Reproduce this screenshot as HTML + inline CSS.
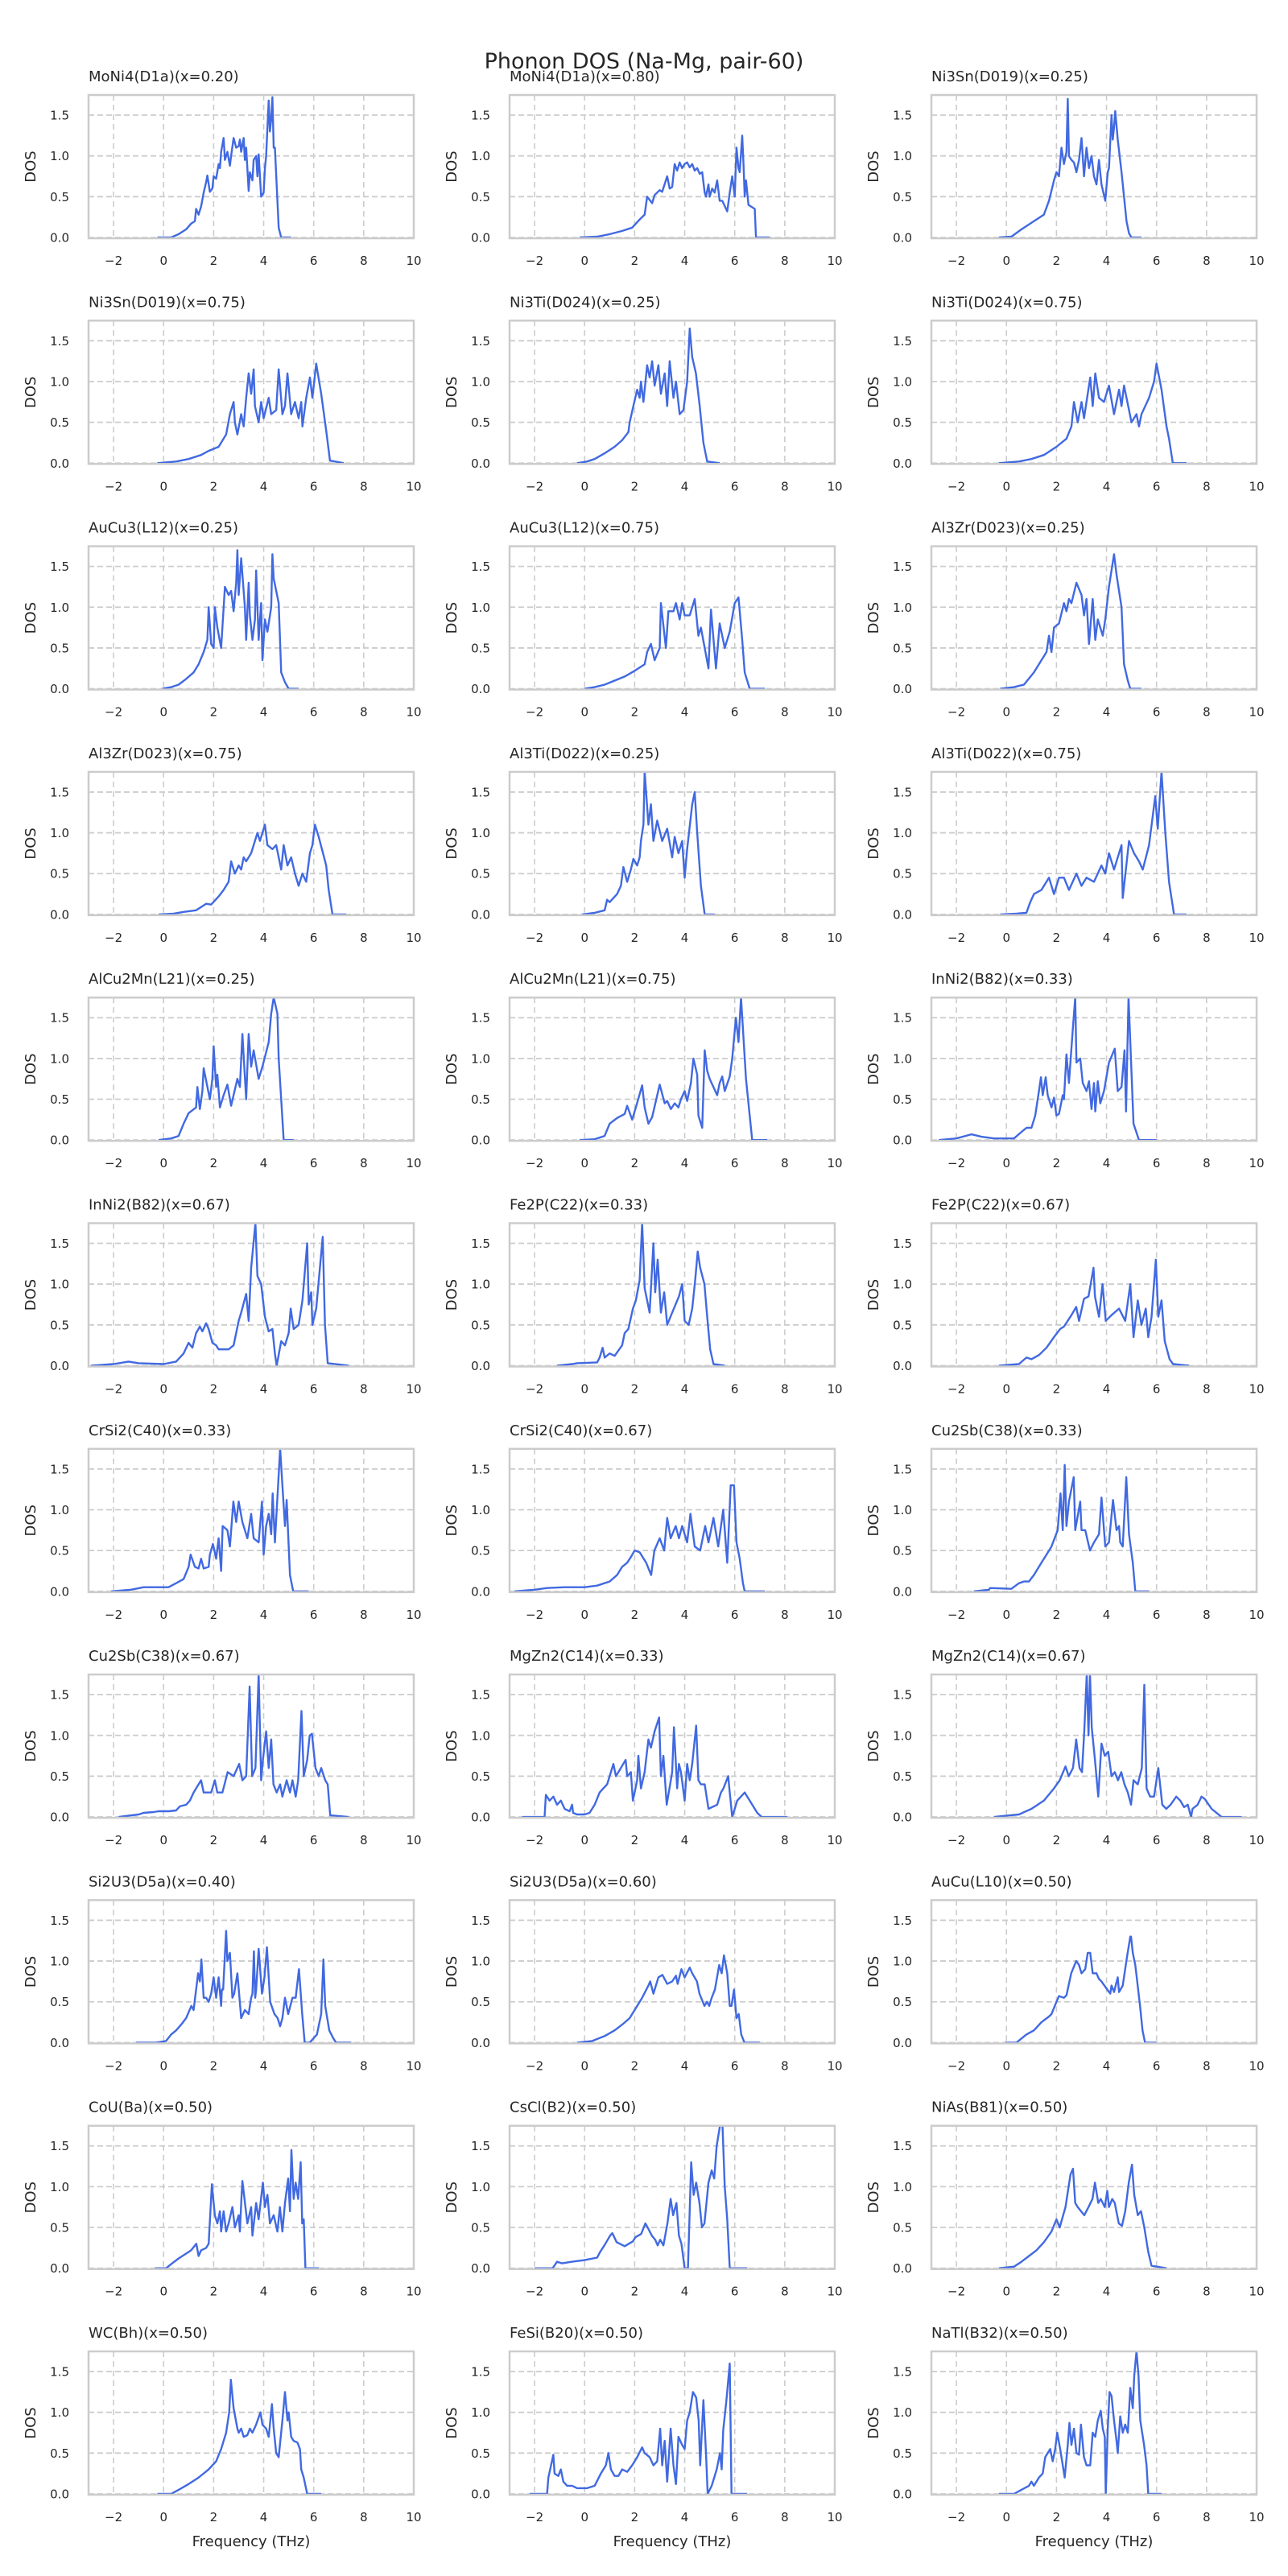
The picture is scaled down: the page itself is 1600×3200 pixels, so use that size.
<!DOCTYPE html>
<html><head><meta charset="utf-8"><title>Phonon DOS (Na-Mg, pair-60)</title>
<style>
html,body{margin:0;padding:0;background:#fff;}
svg{display:block;font-family:"DejaVu Sans","Liberation Sans",sans-serif;}
</style></head>
<body>
<svg id="fig" xmlns="http://www.w3.org/2000/svg" width="1600" height="3200" viewBox="0 0 1600 3200">
<rect width="1600" height="3200" fill="#fff"/>
<text x="800" y="85" text-anchor="middle" font-size="27" fill="#262626">Phonon DOS (Na-Mg, pair-60)</text>
</svg>
<script>
const titles = ["MoNi4(D1a)(x=0.20)","MoNi4(D1a)(x=0.80)","Ni3Sn(D019)(x=0.25)","Ni3Sn(D019)(x=0.75)","Ni3Ti(D024)(x=0.25)","Ni3Ti(D024)(x=0.75)","AuCu3(L12)(x=0.25)","AuCu3(L12)(x=0.75)","Al3Zr(D023)(x=0.25)","Al3Zr(D023)(x=0.75)","Al3Ti(D022)(x=0.25)","Al3Ti(D022)(x=0.75)","AlCu2Mn(L21)(x=0.25)","AlCu2Mn(L21)(x=0.75)","InNi2(B82)(x=0.33)","InNi2(B82)(x=0.67)","Fe2P(C22)(x=0.33)","Fe2P(C22)(x=0.67)","CrSi2(C40)(x=0.33)","CrSi2(C40)(x=0.67)","Cu2Sb(C38)(x=0.33)","Cu2Sb(C38)(x=0.67)","MgZn2(C14)(x=0.33)","MgZn2(C14)(x=0.67)","Si2U3(D5a)(x=0.40)","Si2U3(D5a)(x=0.60)","AuCu(L10)(x=0.50)","CoU(Ba)(x=0.50)","CsCl(B2)(x=0.50)","NiAs(B81)(x=0.50)","WC(Bh)(x=0.50)","FeSi(B20)(x=0.50)","NaTl(B32)(x=0.50)"];
const xTicks = [-2,0,2,4,6,8,10];
const yTicks = [0,0.5,1.0,1.5];
const yTickLabels = ["0.0","0.5","1.0","1.5"];
const xLim = [-3,10];
const yLim = [-0.01,1.747];

const freqs = [
[-0.25,0.3,0.6,0.9,1.1,1.25,1.3,1.4,1.5,1.6,1.7,1.75,1.85,1.95,2.0,2.1,2.2,2.25,2.3,2.4,2.45,2.55,2.65,2.7,2.8,2.9,3.0,3.05,3.1,3.2,3.25,3.3,3.4,3.45,3.55,3.6,3.7,3.75,3.8,3.9,4.0,4.05,4.1,4.2,4.25,4.3,4.35,4.4,4.45,4.6,4.7,5.1],
[-0.2,0.5,1.0,1.5,1.9,2.2,2.4,2.5,2.7,2.8,3.0,3.1,3.3,3.4,3.5,3.6,3.7,3.8,3.9,4.0,4.1,4.2,4.3,4.4,4.5,4.6,4.7,4.8,4.85,4.95,5.0,5.1,5.2,5.3,5.4,5.5,5.7,5.8,5.9,6.0,6.07,6.15,6.2,6.3,6.35,6.4,6.45,6.55,6.65,6.8,6.85,7.4],
[-0.3,0.2,0.6,1.0,1.5,1.7,1.9,2.0,2.1,2.2,2.3,2.4,2.45,2.5,2.6,2.7,2.8,2.9,3.0,3.1,3.2,3.3,3.4,3.5,3.6,3.7,3.8,3.95,4.05,4.1,4.2,4.25,4.3,4.35,4.45,4.6,4.8,4.9,5.0,5.4],
[-0.25,0.5,1.0,1.5,1.8,2.2,2.5,2.65,2.8,2.85,2.95,3.1,3.2,3.3,3.4,3.5,3.6,3.65,3.8,3.9,4.0,4.2,4.3,4.5,4.6,4.75,4.85,4.95,5.1,5.25,5.4,5.5,5.55,5.7,5.85,5.95,6.1,6.3,6.5,6.65,7.2],
[-0.3,0.1,0.4,0.8,1.2,1.5,1.75,1.8,1.95,2.1,2.2,2.25,2.35,2.5,2.6,2.7,2.8,2.95,3.05,3.2,3.3,3.4,3.55,3.65,3.8,3.95,4.1,4.2,4.3,4.45,4.6,4.75,4.9,5.4],
[-0.3,0.5,1.0,1.5,2.0,2.4,2.6,2.7,2.85,3.0,3.1,3.35,3.45,3.55,3.7,3.9,4.1,4.3,4.5,4.6,4.7,5.0,5.2,5.3,5.4,5.7,5.9,6.0,6.2,6.4,6.5,6.65,7.2],
[-0.05,0.3,0.6,0.9,1.2,1.4,1.6,1.75,1.8,1.9,2.0,2.05,2.15,2.3,2.45,2.6,2.7,2.8,2.9,2.95,3.0,3.1,3.25,3.3,3.4,3.45,3.55,3.65,3.7,3.8,3.9,3.95,4.05,4.15,4.3,4.35,4.4,4.6,4.7,4.85,5.0,5.4],
[0.0,0.4,0.8,1.2,1.6,2.0,2.4,2.5,2.65,2.8,3.0,3.05,3.25,3.35,3.55,3.65,3.8,3.9,4.0,4.2,4.4,4.55,4.65,4.8,4.95,5.05,5.25,5.4,5.6,5.8,6.0,6.15,6.3,6.4,6.6,7.2],
[-0.25,0.3,0.7,1.1,1.4,1.6,1.7,1.8,1.9,2.1,2.3,2.4,2.5,2.6,2.8,3.0,3.1,3.2,3.3,3.45,3.55,3.65,3.85,3.95,4.1,4.3,4.4,4.6,4.7,4.85,4.95,5.4],
[-0.2,0.4,0.8,1.3,1.7,1.9,2.2,2.4,2.6,2.7,2.85,3.0,3.1,3.2,3.3,3.5,3.75,3.85,4.05,4.15,4.35,4.5,4.7,4.8,4.95,5.1,5.25,5.4,5.55,5.7,5.85,5.95,6.05,6.2,6.5,6.6,6.75,7.3],
[-0.1,0.4,0.8,0.9,1.0,1.3,1.45,1.55,1.7,1.85,1.95,2.1,2.2,2.25,2.3,2.35,2.4,2.55,2.65,2.75,2.9,3.1,3.3,3.5,3.6,3.75,3.9,4.0,4.1,4.3,4.4,4.5,4.65,4.8,5.2],
[-0.25,0.4,0.8,0.95,1.1,1.4,1.7,1.9,2.1,2.3,2.5,2.8,3.0,3.2,3.5,3.8,3.95,4.1,4.3,4.6,4.65,4.9,5.1,5.3,5.45,5.7,5.95,6.05,6.2,6.35,6.5,6.7,7.2],
[-0.2,0.3,0.6,0.8,1.0,1.3,1.35,1.45,1.55,1.6,1.85,1.95,2.0,2.1,2.15,2.25,2.4,2.55,2.7,2.95,3.05,3.15,3.3,3.4,3.5,3.6,3.8,3.95,4.2,4.3,4.4,4.55,4.6,4.7,4.8,5.2],
[-0.2,0.4,0.8,1.0,1.3,1.6,1.7,1.9,2.05,2.3,2.4,2.55,2.7,3.0,3.2,3.3,3.45,3.6,3.75,3.85,4.0,4.1,4.25,4.35,4.5,4.55,4.7,4.8,4.9,5.0,5.3,5.4,5.5,5.6,5.8,5.9,6.05,6.15,6.25,6.45,6.6,6.7,7.3],
[-2.7,-2.0,-1.4,-1.0,-0.5,0.3,0.6,0.8,1.0,1.15,1.3,1.38,1.45,1.57,1.65,1.8,1.9,2.0,2.1,2.25,2.3,2.4,2.5,2.65,2.75,2.8,2.95,3.05,3.2,3.3,3.4,3.5,3.55,3.65,3.75,3.9,4.1,4.33,4.45,4.6,4.72,4.78,4.88,4.95,5.08,5.3,6.0],
[-2.9,-2.0,-1.4,-1.0,0.0,0.5,0.8,1.0,1.15,1.3,1.45,1.55,1.7,1.8,1.95,2.1,2.2,2.6,2.8,3.0,3.1,3.3,3.4,3.5,3.67,3.75,3.9,4.05,4.2,4.35,4.45,4.52,4.7,4.85,5.0,5.08,5.2,5.4,5.55,5.74,5.8,5.9,5.95,6.1,6.36,6.45,6.56,7.4],
[-1.1,-0.5,-0.3,0.5,0.6,0.72,0.8,1.0,1.2,1.5,1.6,1.75,1.93,2.05,2.2,2.3,2.4,2.6,2.75,2.82,2.92,3.05,3.18,3.3,3.5,3.77,3.9,4.0,4.16,4.3,4.42,4.52,4.62,4.79,4.9,5.02,5.15,5.6],
[-0.3,0.5,0.8,1.0,1.3,1.6,1.9,2.15,2.3,2.6,2.79,2.9,3.1,3.28,3.48,3.54,3.7,3.84,3.97,4.2,4.5,4.75,4.95,5.08,5.25,5.4,5.57,5.67,5.8,5.97,6.07,6.2,6.33,6.52,6.66,7.3],
[-2.1,-1.3,-0.8,-0.3,0.2,0.5,0.8,1.0,1.08,1.25,1.4,1.5,1.6,1.8,1.85,1.97,2.1,2.2,2.3,2.36,2.55,2.65,2.79,2.9,3.0,3.15,3.25,3.35,3.5,3.6,3.8,3.93,4.0,4.1,4.2,4.3,4.36,4.45,4.66,4.75,4.85,4.92,5.05,5.18,5.8],
[-2.8,-2.0,-1.5,-0.8,0.0,0.5,1.0,1.3,1.5,1.7,1.85,2.0,2.2,2.46,2.66,2.79,3.0,3.18,3.3,3.44,3.64,3.77,3.9,4.1,4.23,4.4,4.62,4.82,4.95,5.15,5.34,5.54,5.7,5.84,5.97,6.07,6.2,6.33,6.4,7.2],
[-1.3,-0.7,-0.65,0.2,0.5,0.7,0.9,1.1,1.4,1.6,1.8,2.05,2.16,2.25,2.33,2.4,2.5,2.69,2.75,2.95,3.0,3.15,3.34,3.5,3.7,3.8,3.95,4.1,4.26,4.4,4.5,4.55,4.65,4.79,4.9,5.05,5.15,5.7],
[-1.8,-1.0,-0.8,-0.4,-0.2,0.2,0.5,0.65,0.9,1.05,1.2,1.3,1.5,1.6,1.9,2.05,2.15,2.35,2.56,2.8,3.02,3.15,3.3,3.44,3.54,3.67,3.8,3.9,3.97,4.1,4.2,4.3,4.39,4.52,4.66,4.75,4.92,5.05,5.15,5.28,5.38,5.51,5.6,5.74,5.84,5.93,6.07,6.2,6.3,6.46,6.56,6.66,7.4],
[-2.5,-1.6,-1.55,-1.4,-1.25,-1.1,-0.95,-0.8,-0.6,-0.5,-0.46,-0.3,0.0,0.2,0.4,0.6,0.75,0.9,1.15,1.25,1.35,1.64,1.7,1.85,1.93,2.1,2.15,2.25,2.4,2.55,2.65,2.8,2.98,3.05,3.15,3.28,3.5,3.57,3.7,3.77,3.85,4.0,4.1,4.2,4.3,4.46,4.55,4.65,4.8,4.95,5.3,5.45,5.55,5.74,5.8,5.9,6.1,6.4,6.6,6.9,7.08,8.1],
[-0.5,0.5,1.0,1.5,1.9,2.13,2.36,2.49,2.66,2.79,2.92,3.02,3.11,3.21,3.28,3.34,3.41,3.54,3.67,3.8,3.93,4.07,4.2,4.33,4.46,4.59,4.72,4.85,4.98,5.08,5.25,5.41,5.51,5.6,5.74,5.9,6.07,6.23,6.39,6.56,6.79,6.95,7.1,7.25,7.38,7.44,7.64,7.8,7.93,8.2,8.6,9.4],
[-1.1,-0.3,0.1,0.3,0.5,0.7,0.9,1.11,1.2,1.38,1.45,1.51,1.6,1.7,1.8,1.9,2.0,2.1,2.2,2.3,2.33,2.38,2.5,2.55,2.65,2.75,2.82,2.95,3.1,3.25,3.4,3.5,3.55,3.61,3.66,3.7,3.8,3.93,4.03,4.13,4.26,4.43,4.56,4.66,4.75,4.85,4.98,5.15,5.28,5.41,5.54,5.64,5.84,6.13,6.3,6.39,6.46,6.62,6.79,6.89,7.5],
[-0.3,0.3,0.8,1.2,1.5,1.8,2.0,2.3,2.55,2.62,2.75,2.95,3.11,3.3,3.5,3.65,3.72,3.87,4.0,4.2,4.3,4.49,4.59,4.79,4.89,4.98,5.08,5.21,5.38,5.48,5.57,5.7,5.8,5.87,5.97,6.07,6.16,6.26,6.39,7.0],
[-0.05,0.4,0.6,0.8,1.1,1.4,1.7,1.8,2.0,2.1,2.3,2.4,2.59,2.79,2.9,3.0,3.15,3.25,3.35,3.45,3.6,3.7,3.8,4.03,4.15,4.2,4.3,4.45,4.5,4.65,4.82,4.95,4.98,5.05,5.15,5.21,5.34,5.44,5.54,6.0],
[-0.35,0.1,0.3,0.6,0.9,1.1,1.31,1.4,1.5,1.7,1.8,1.93,2.0,2.05,2.15,2.25,2.3,2.4,2.5,2.6,2.75,2.85,3.0,3.05,3.11,3.15,3.35,3.5,3.55,3.7,3.8,3.97,4.05,4.15,4.25,4.4,4.55,4.65,4.75,4.85,4.98,5.05,5.11,5.2,5.28,5.38,5.48,5.54,5.6,5.67,6.2],
[-2.0,-1.28,-1.1,-0.9,-0.5,0.0,0.5,0.62,0.79,1.02,1.11,1.28,1.6,1.93,2.03,2.26,2.43,2.52,2.69,2.82,2.92,3.02,3.15,3.31,3.44,3.54,3.67,3.77,3.87,4.0,4.13,4.26,4.36,4.46,4.59,4.69,4.79,4.95,5.08,5.18,5.28,5.41,5.51,5.6,5.7,5.8,6.5],
[-0.3,0.3,0.6,0.9,1.2,1.5,1.8,2.0,2.13,2.36,2.46,2.56,2.66,2.75,2.85,2.98,3.11,3.28,3.44,3.54,3.67,3.77,3.93,4.03,4.1,4.23,4.33,4.49,4.62,4.75,4.89,5.02,5.11,5.25,5.38,5.51,5.67,5.8,6.4],
[-0.25,0.3,0.6,1.0,1.4,1.8,2.1,2.3,2.5,2.62,2.69,2.8,2.95,3.0,3.1,3.2,3.35,3.45,3.55,3.7,3.87,3.95,4.1,4.2,4.33,4.4,4.5,4.6,4.75,4.85,4.95,5.0,5.1,5.2,5.35,5.45,5.5,5.6,5.74,6.3],
[-2.2,-1.5,-1.45,-1.25,-1.2,-1.05,-0.95,-0.85,-0.7,-0.5,-0.3,0.1,0.4,0.65,0.85,0.95,1.05,1.2,1.35,1.5,1.7,1.9,2.1,2.3,2.4,2.6,2.75,2.9,3.02,3.1,3.2,3.3,3.44,3.55,3.65,3.75,3.9,4.0,4.1,4.2,4.33,4.46,4.56,4.62,4.75,4.85,4.92,5.08,5.28,5.41,5.48,5.54,5.67,5.8,5.87,6.5],
[-0.3,0.3,0.6,0.9,1.0,1.1,1.3,1.45,1.55,1.65,1.75,1.85,1.95,2.03,2.15,2.33,2.45,2.52,2.6,2.7,2.8,2.9,2.98,3.1,3.2,3.35,3.45,3.55,3.65,3.77,3.85,3.93,3.97,4.05,4.12,4.2,4.3,4.4,4.45,4.55,4.65,4.75,4.85,4.95,5.05,5.11,5.2,5.28,5.35,5.5,5.6,5.67,6.2]
];

const dosValues = [
[0,0,0.04,0.1,0.17,0.2,0.35,0.28,0.38,0.55,0.68,0.76,0.56,0.6,0.75,0.72,0.9,0.85,1.05,1.22,0.95,1.05,0.88,1.0,1.22,1.1,1.12,1.2,1.05,1.22,0.95,1.1,0.57,0.8,0.7,0.95,1.0,0.75,1.02,0.5,0.55,0.85,1.0,1.68,1.3,1.45,1.72,1.1,1.1,0.12,0,0],
[0,0.01,0.04,0.08,0.12,0.22,0.28,0.5,0.42,0.52,0.58,0.56,0.75,0.6,0.62,0.9,0.82,0.92,0.85,0.9,0.92,0.86,0.9,0.82,0.85,0.78,0.8,0.55,0.5,0.65,0.5,0.6,0.55,0.7,0.45,0.45,0.32,0.55,0.75,0.5,1.1,0.85,0.8,1.25,0.9,0.5,0.7,0.4,0.38,0.35,0,0],
[0,0.01,0.1,0.18,0.28,0.45,0.7,0.8,0.75,1.1,0.9,1.05,1.7,1.0,0.95,0.92,0.8,0.95,1.22,0.75,1.1,0.85,1.0,0.75,0.65,0.95,0.65,0.45,0.8,0.85,1.5,1.2,1.35,1.55,1.2,0.8,0.2,0.05,0,0],
[0,0.02,0.05,0.1,0.15,0.2,0.35,0.6,0.75,0.5,0.35,0.6,0.45,0.8,1.1,0.85,1.15,0.7,0.5,0.75,0.55,0.8,0.6,0.65,1.15,0.6,0.7,1.1,0.6,0.75,0.55,0.75,0.45,0.8,1.05,0.8,1.22,0.85,0.4,0.03,0],
[0,0.02,0.05,0.12,0.2,0.28,0.38,0.5,0.7,0.9,0.8,1.0,0.75,1.2,1.05,1.25,0.95,1.2,0.85,1.1,0.7,1.25,0.8,1.0,0.6,0.65,1.0,1.65,1.3,1.1,0.7,0.25,0.02,0],
[0,0.02,0.05,0.1,0.2,0.3,0.45,0.75,0.5,0.75,0.55,1.05,0.7,1.1,0.8,0.75,0.95,0.6,0.9,0.7,0.95,0.5,0.6,0.45,0.6,0.8,1.0,1.22,0.9,0.45,0.3,0,0],
[0,0.02,0.05,0.12,0.2,0.3,0.45,0.6,1.0,0.55,0.5,1.0,0.75,0.5,1.25,1.15,1.2,0.95,1.3,1.7,1.15,1.6,1.0,0.6,1.3,0.9,0.6,0.85,1.45,0.6,1.05,0.35,0.85,0.7,1.0,1.65,1.35,1.05,0.2,0.08,0,0],
[0,0.02,0.05,0.1,0.15,0.22,0.3,0.45,0.55,0.35,0.5,1.05,0.5,0.95,0.95,1.05,0.85,1.05,0.9,0.9,1.1,0.65,0.75,0.5,0.25,0.97,0.25,0.8,0.5,0.7,1.05,1.12,0.6,0.2,0,0],
[0,0.02,0.05,0.2,0.35,0.45,0.65,0.45,0.75,0.8,1.05,0.95,1.1,1.05,1.3,1.15,0.9,1.1,0.55,1.1,0.6,0.85,0.65,0.85,1.25,1.65,1.4,1.0,0.3,0.1,0,0],
[0,0.01,0.03,0.05,0.13,0.12,0.22,0.3,0.4,0.65,0.5,0.6,0.55,0.7,0.65,0.75,1.0,0.9,1.1,0.85,0.8,0.85,0.55,0.85,0.6,0.7,0.5,0.35,0.5,0.4,0.75,0.85,1.1,0.95,0.6,0.3,0,0],
[0,0.02,0.05,0.18,0.15,0.25,0.35,0.58,0.4,0.55,0.68,0.6,0.7,0.9,1.0,1.1,1.75,1.1,1.35,0.9,1.15,0.9,1.05,0.7,0.95,0.75,0.9,0.45,0.8,1.35,1.5,1.0,0.35,0,0],
[0,0.01,0.02,0.15,0.25,0.3,0.45,0.25,0.45,0.45,0.3,0.5,0.35,0.45,0.4,0.6,0.5,0.75,0.55,0.85,0.2,0.9,0.75,0.65,0.55,0.85,1.45,1.05,1.75,1.0,0.4,0,0],
[0,0.02,0.05,0.2,0.33,0.4,0.65,0.38,0.6,0.88,0.5,0.75,1.15,0.65,0.8,0.4,0.55,0.68,0.42,0.75,0.65,1.3,0.5,1.3,0.9,1.1,0.75,0.9,1.2,1.55,1.75,1.55,1.0,0.5,0,0],
[0,0.01,0.05,0.2,0.27,0.32,0.42,0.25,0.4,0.67,0.4,0.2,0.28,0.68,0.45,0.48,0.38,0.45,0.4,0.5,0.6,0.48,0.7,1.0,0.8,0.3,0.15,1.1,0.85,0.75,0.55,0.7,0.78,0.6,0.78,1.0,1.5,1.2,1.75,0.75,0.3,0,0],
[0,0.02,0.07,0.04,0.02,0.02,0.1,0.15,0.15,0.3,0.6,0.77,0.55,0.77,0.55,0.4,0.52,0.3,0.32,0.55,0.5,1.05,0.7,1.35,1.75,0.95,1.0,0.7,0.6,0.72,0.38,0.7,0.35,0.72,0.45,0.6,0.95,1.12,0.6,0.65,1.1,0.35,1.75,1.2,0.2,0,0],
[0,0.02,0.05,0.03,0.02,0.05,0.15,0.28,0.22,0.4,0.48,0.42,0.52,0.45,0.28,0.25,0.2,0.2,0.25,0.55,0.65,0.88,0.55,1.2,1.75,1.1,1.0,0.6,0.42,0.45,0.15,0.0,0.3,0.25,0.4,0.7,0.45,0.5,0.8,1.5,0.75,0.9,0.5,0.7,1.58,0.5,0.03,0],
[0,0.02,0.03,0.04,0.1,0.22,0.1,0.15,0.12,0.25,0.4,0.45,0.7,0.8,1.05,1.75,0.95,0.65,1.5,0.9,1.3,0.65,0.9,0.5,0.65,0.85,1.0,0.55,0.5,0.7,1.05,1.4,1.2,1.0,0.6,0.2,0.02,0],
[0,0.02,0.1,0.08,0.13,0.22,0.35,0.45,0.48,0.62,0.72,0.55,0.82,0.85,1.2,0.85,0.6,1.0,0.55,0.62,0.7,0.55,1.0,0.35,0.8,0.5,0.7,0.35,0.6,1.3,0.6,0.8,0.3,0.08,0.02,0],
[0,0.02,0.05,0.05,0.05,0.1,0.15,0.3,0.45,0.3,0.28,0.4,0.28,0.3,0.45,0.58,0.4,0.65,0.25,0.8,0.75,0.55,1.1,0.85,1.1,0.85,0.75,0.65,0.95,0.65,0.6,1.1,0.45,0.8,0.95,0.7,1.2,0.6,1.75,1.3,0.8,1.12,0.2,0,0],
[0,0.02,0.04,0.05,0.05,0.07,0.12,0.2,0.3,0.35,0.42,0.5,0.48,0.35,0.2,0.5,0.65,0.5,0.9,0.65,0.8,0.65,0.8,0.6,0.95,0.55,0.5,0.8,0.6,0.9,0.55,1.0,0.35,1.3,1.3,0.6,0.4,0.1,0,0],
[0,0.02,0.04,0.03,0.1,0.12,0.12,0.2,0.35,0.45,0.55,0.75,1.2,0.75,1.55,0.8,1.1,1.4,0.75,1.1,0.75,0.75,0.5,0.6,0.7,1.15,0.55,0.6,1.12,0.75,0.8,0.6,0.55,1.4,0.7,0.35,0,0],
[0,0.03,0.05,0.06,0.07,0.07,0.08,0.13,0.15,0.2,0.3,0.35,0.45,0.3,0.3,0.45,0.3,0.3,0.55,0.5,0.65,0.45,0.5,1.6,0.5,0.6,1.75,0.45,0.7,1.05,0.6,0.95,0.4,0.3,0.4,0.25,0.45,0.3,0.45,0.25,0.45,1.3,0.5,0.7,1.0,1.02,0.6,0.5,0.6,0.45,0.4,0.02,0],
[0,0,0.27,0.2,0.25,0.15,0.2,0.1,0.07,0.15,0.05,0.03,0.03,0.05,0.15,0.3,0.35,0.4,0.65,0.5,0.55,0.7,0.5,0.55,0.2,0.45,0.75,0.35,0.55,0.95,0.85,1.05,1.22,0.5,0.75,0.15,0.55,1.1,0.35,0.65,0.55,0.2,0.65,0.45,0.65,1.12,0.45,0.4,0.4,0.1,0.15,0.3,0.35,0.5,0.3,0.0,0.2,0.3,0.2,0.05,0,0],
[0,0.03,0.1,0.2,0.35,0.45,0.62,0.5,0.6,0.95,0.6,0.55,1.05,1.75,1.0,1.75,1.1,0.7,0.25,0.9,0.75,0.8,0.5,0.55,0.45,0.55,0.4,0.3,0.15,0.45,0.4,0.6,1.62,0.35,0.25,0.25,0.6,0.15,0.1,0.15,0.25,0.2,0.12,0.15,0.0,0.1,0.15,0.25,0.22,0.1,0,0],
[0,0,0.02,0.1,0.15,0.22,0.3,0.45,0.4,0.85,0.75,1.02,0.55,0.55,0.5,0.6,0.8,0.55,0.8,0.45,0.65,0.65,1.37,1.0,1.1,0.55,0.6,0.85,0.3,0.4,0.35,0.55,0.6,1.12,0.55,0.65,1.15,0.6,0.8,1.17,0.5,0.35,0.3,0.2,0.3,0.55,0.35,0.55,0.55,0.9,0.35,0,0,0.1,0.35,1.02,0.45,0.15,0.05,0,0],
[0,0.02,0.08,0.15,0.22,0.3,0.4,0.55,0.7,0.75,0.6,0.8,0.83,0.72,0.75,0.82,0.72,0.9,0.8,0.92,0.85,0.75,0.6,0.45,0.5,0.45,0.55,0.65,0.95,0.85,1.07,0.85,0.45,0.45,0.65,0.3,0.35,0.1,0,0],
[0,0,0.05,0.1,0.15,0.25,0.32,0.35,0.5,0.57,0.55,0.58,0.85,1.0,0.95,0.85,0.9,1.1,1.1,0.85,0.85,0.78,0.75,0.65,0.6,0.7,0.62,0.8,0.62,0.7,1.05,1.3,1.3,1.1,0.95,0.8,0.45,0.15,0,0],
[0,0,0.05,0.12,0.18,0.22,0.3,0.15,0.22,0.25,0.3,1.03,0.8,0.65,0.55,0.7,0.45,0.7,0.45,0.55,0.75,0.5,0.65,0.45,0.85,1.07,0.55,0.75,0.4,0.8,0.6,1.05,0.75,0.9,0.55,0.65,0.45,0.75,0.45,0.8,1.1,0.7,1.45,0.85,1.05,0.85,1.3,0.55,0.6,0,0],
[0,0,0.08,0.06,0.08,0.1,0.13,0.2,0.28,0.4,0.43,0.32,0.27,0.33,0.38,0.42,0.55,0.5,0.4,0.35,0.28,0.35,0.28,0.55,0.85,0.65,0.8,0.4,0.3,0.0,0.0,1.3,0.9,1.05,0.8,0.5,0.55,1.05,1.2,1.1,1.5,1.75,1.75,1.0,0.6,0,0],
[0,0.02,0.08,0.15,0.22,0.32,0.45,0.6,0.5,0.75,0.95,1.15,1.22,0.8,0.75,0.7,0.65,0.75,0.85,1.05,0.8,0.85,0.75,0.95,0.75,0.85,0.8,0.55,0.52,0.7,1.05,1.27,0.9,0.65,0.7,0.5,0.2,0.03,0],
[0,0,0.05,0.12,0.2,0.3,0.4,0.55,0.75,1.0,1.4,1.05,0.8,0.75,0.8,0.7,0.72,0.8,0.75,0.85,1.0,0.85,0.8,0.7,1.1,0.8,0.5,0.45,0.9,1.25,0.9,1.0,0.7,0.65,0.63,0.55,0.3,0.2,0,0],
[0,0,0.2,0.48,0.25,0.22,0.3,0.15,0.1,0.1,0.07,0.07,0.1,0.25,0.35,0.5,0.3,0.22,0.22,0.3,0.27,0.35,0.45,0.57,0.5,0.45,0.35,0.4,0.8,0.35,0.65,0.15,0.8,0.35,0.12,0.7,0.6,0.55,0.9,1.0,1.25,1.18,0.9,0.35,1.15,0.5,0.0,0.1,0.3,0.5,0.3,0.78,1.15,1.6,0,0],
[0,0,0.05,0.1,0.15,0.1,0.2,0.25,0.45,0.5,0.55,0.4,0.55,0.75,0.55,0.2,0.6,0.87,0.6,0.8,0.5,0.48,0.85,0.45,0.35,0.35,0.75,0.7,0.9,1.02,0.8,0.7,0.0,0.8,1.25,1.2,0.9,0.65,0.5,0.95,0.75,0.85,0.75,1.3,1.05,1.45,1.75,1.45,0.9,0.6,0.35,0,0]
];

const svg = document.getElementById('fig');
const NS = 'http://www.w3.org/2000/svg';
const colLeft = [110, 633, 1157];
const PW = 404, PH = 178, TOP0 = 118, ROWSTEP = 280.3;

function mk(tag, attrs) {
  const e = document.createElementNS(NS, tag);
  for (const k in attrs) e.setAttribute(k, attrs[k]);
  return e;
}

const defs = mk('defs', {});
svg.appendChild(defs);

titles.forEach(function(title, i) {
  const row = Math.floor(i / 3), col = i % 3;
  const L = colLeft[col], T = TOP0 + row * ROWSTEP, B = T + PH, R = L + PW;
  const sx = function(v) { return L + (v - xLim[0]) / (xLim[1] - xLim[0]) * PW; };
  const sy = function(v) { return B - (v - yLim[0]) / (yLim[1] - yLim[0]) * PH; };

  const g = mk('g', {});
  
  
  svg.appendChild(g);

  const cp = mk('clipPath', {id: 'clip' + i});
  cp.appendChild(mk('rect', {x: L, y: T, width: PW, height: PH}));
  defs.appendChild(cp);

  // grid
  xTicks.forEach(function(t) {
    const ln = mk('line', {x1: sx(t), x2: sx(t), y1: T, y2: B, stroke: '#cccccc', 'stroke-width': 1.6, 'stroke-dasharray': '7,5'});
    
    
    g.appendChild(ln);
    const tx = mk('text', {x: sx(t), y: B + 33, 'text-anchor': 'middle', 'font-size': 15, fill: '#262626'});
    tx.textContent = (t < 0 ? '\u2212' + Math.abs(t) : String(t));
    
    
    g.appendChild(tx);
  });
  yTicks.forEach(function(t, k) {
    const ln = mk('line', {x1: L, x2: R, y1: sy(t), y2: sy(t), stroke: '#cccccc', 'stroke-width': 1.8, 'stroke-dasharray': '7,4'});
    
    
    g.appendChild(ln);
    const tx = mk('text', {x: L - 24, y: sy(t) + 5.5, 'text-anchor': 'end', 'font-size': 15, fill: '#262626'});
    tx.textContent = yTickLabels[k];
    
    
    g.appendChild(tx);
  });

  // curve
  const xs = freqs[i], ys = dosValues[i];
  let d = '';
  for (let j = 0; j < xs.length; j++) {
    d += (j ? 'L' : 'M') + sx(xs[j]).toFixed(1) + ',' + sy(ys[j]).toFixed(1);
  }
  const path = mk('path', {d: d, fill: 'none', stroke: '#4169e1', 'stroke-width': 2.4, 'stroke-linejoin': 'round', 'clip-path': 'url(#clip' + i + ')'});
  
  
  g.appendChild(path);

  // frame
  const fr = mk('rect', {x: L, y: T, width: PW, height: PH, fill: 'none', stroke: '#cccccc', 'stroke-width': 2.5});
  
  
  g.appendChild(fr);

  // title
  const tt = mk('text', {x: L, y: T - 17, 'font-size': 18, fill: '#262626'});
  tt.textContent = title;
  
  
  g.appendChild(tt);

  // y label
  const yl = mk('text', {x: 0, y: 0, 'font-size': 18, fill: '#262626', 'text-anchor': 'middle', transform: 'translate(' + (L - 66) + ',' + (T + PH / 2) + ') rotate(-90)'});
  yl.textContent = 'DOS';
  
  
  g.appendChild(yl);

  if (row === 10) {
    const xl = mk('text', {x: L + PW / 2, y: B + 64, 'font-size': 18, fill: '#262626', 'text-anchor': 'middle'});
    xl.textContent = 'Frequency (THz)';
    
    
    g.appendChild(xl);
  }
});
</script>
</body></html>
